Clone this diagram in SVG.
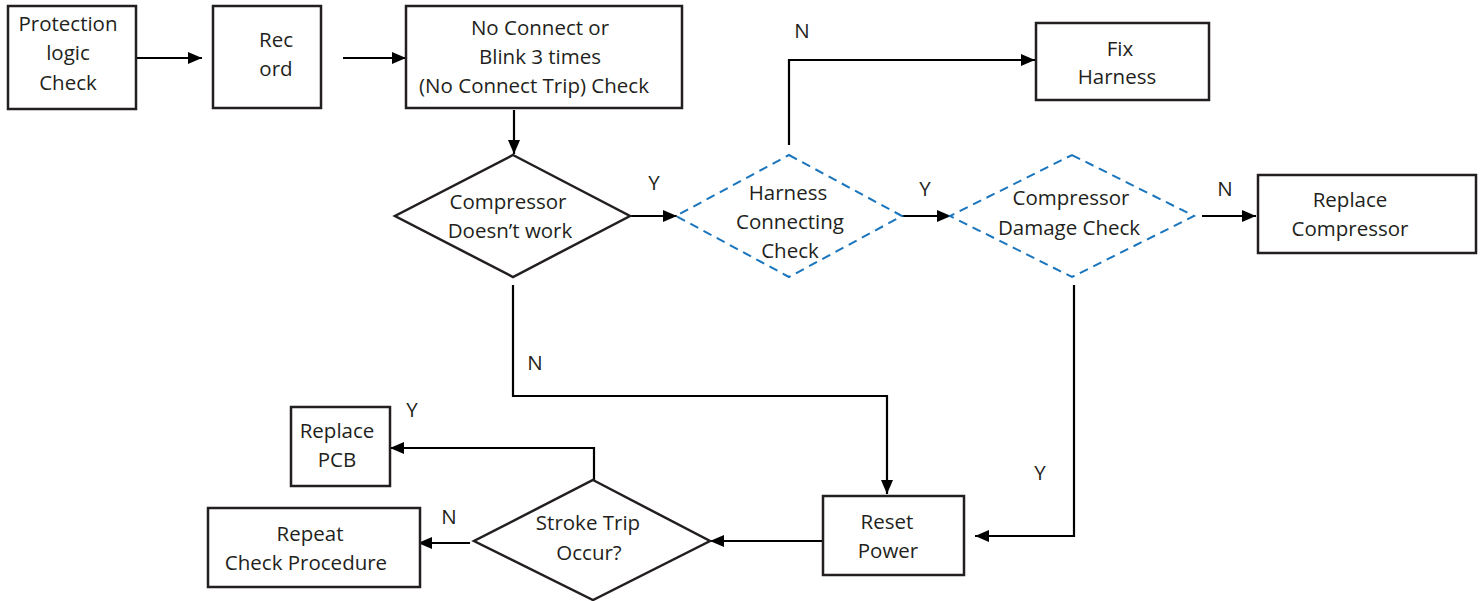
<svg xmlns="http://www.w3.org/2000/svg" width="1480" height="601" viewBox="0 0 1480 601">
  <defs>
    <marker id="arrow" viewBox="0 0 14 12" refX="14" refY="6" markerWidth="14" markerHeight="12" markerUnits="userSpaceOnUse" orient="auto">
      <path d="M0,0 L14,6 L0,12 z" fill="#000"/>
    </marker>
    <style>
      text { font-family: "Open Sans", "Liberation Sans", sans-serif; font-size: 20.5px; fill: #231f20; text-anchor: middle; }
      .box { fill: #fff; stroke: #231f20; stroke-width: 2.5; }
      .dec { fill: #fff; stroke: #231f20; stroke-width: 2.5; }
      .dash { fill: #fff; stroke: #1a75bc; stroke-width: 2; stroke-dasharray: 9 6; }
      .edge { fill: none; stroke: #000; stroke-width: 2.2; marker-end: url(#arrow); }
    </style>
  </defs>

  <!-- connectors -->
  <g id="connectors">
    <path class="edge" d="M137,58 H202"/>
    <path class="edge" d="M343,58 H406"/>
    <path class="edge" d="M514,110 V154"/>
    <path class="edge" d="M630,216 H677"/>
    <path class="edge" d="M789,145 V60 H1035"/>
    <path class="edge" d="M902,216 H951"/>
    <path class="edge" d="M1202,216 H1256"/>
    <path class="edge" d="M1074,285 V536 H975"/>
    <path class="edge" d="M513,285 V396 H887 V494"/>
    <path class="edge" d="M822,541 H710"/>
    <path class="edge" d="M594,480 V448 H390"/>
    <path class="edge" d="M470,543 H418"/>
    <text x="654" y="190">Y</text>
    <text x="802" y="38">N</text>
    <text x="925" y="196">Y</text>
    <text x="1225" y="196">N</text>
    <text x="1040" y="480">Y</text>
    <text x="535" y="370">N</text>
    <text x="412" y="417">Y</text>
    <text x="449" y="524">N</text>
  </g>

  <g id="protection-logic-check">
    <rect class="box" x="8" y="6" width="128" height="103"/>
    <text x="68" y="31">Protection</text>
    <text x="68" y="60">logic</text>
    <text x="68" y="90">Check</text>
  </g>

  <g id="record">
    <rect class="box" x="213" y="6" width="108" height="102"/>
    <text x="276" y="47">Rec</text>
    <text x="276" y="76">ord</text>
  </g>

  <g id="no-connect-check">
    <rect class="box" x="406" y="6" width="276" height="102"/>
    <text x="540" y="35">No Connect or</text>
    <text x="540" y="64">Blink 3 times</text>
    <text x="534" y="93">(No Connect Trip) Check</text>
  </g>

  <g id="compressor-doesnt-work">
    <polygon class="dec" points="513,155 630,216 513,277 395,216"/>
    <text x="508" y="209">Compressor</text>
    <text x="510" y="238">Doesn’t work</text>
  </g>

  <g id="harness-connecting-check">
    <polygon class="dash" points="789,155 902,216 789,277 676,216"/>
    <text x="788" y="200">Harness</text>
    <text x="790" y="229">Connecting</text>
    <text x="790" y="258">Check</text>
  </g>

  <g id="fix-harness">
    <rect class="box" x="1036" y="23" width="173" height="77"/>
    <text x="1120" y="56">Fix</text>
    <text x="1117" y="84">Harness</text>
  </g>

  <g id="compressor-damage-check">
    <polygon class="dash" points="1072,155 1194,216 1072,277 950,216"/>
    <text x="1071" y="205">Compressor</text>
    <text x="1069" y="235">Damage Check</text>
  </g>

  <g id="replace-compressor">
    <rect class="box" x="1258" y="175" width="218" height="78"/>
    <text x="1350" y="207">Replace</text>
    <text x="1350" y="236">Compressor</text>
  </g>

  <g id="reset-power">
    <rect class="box" x="823" y="496" width="141" height="79"/>
    <text x="887" y="529">Reset</text>
    <text x="888" y="558">Power</text>
  </g>

  <g id="stroke-trip-occur">
    <polygon class="dec" points="593,480 710,541 593,600 474,541"/>
    <text x="588" y="530">Stroke Trip</text>
    <text x="589" y="560">Occur?</text>
  </g>

  <g id="replace-pcb">
    <rect class="box" x="291" y="407" width="99" height="79"/>
    <text x="337" y="438">Replace</text>
    <text x="337" y="467">PCB</text>
  </g>

  <g id="repeat-check-procedure">
    <rect class="box" x="208" y="508" width="212" height="79"/>
    <text x="310" y="541">Repeat</text>
    <text x="306" y="570">Check Procedure</text>
  </g>
</svg>
